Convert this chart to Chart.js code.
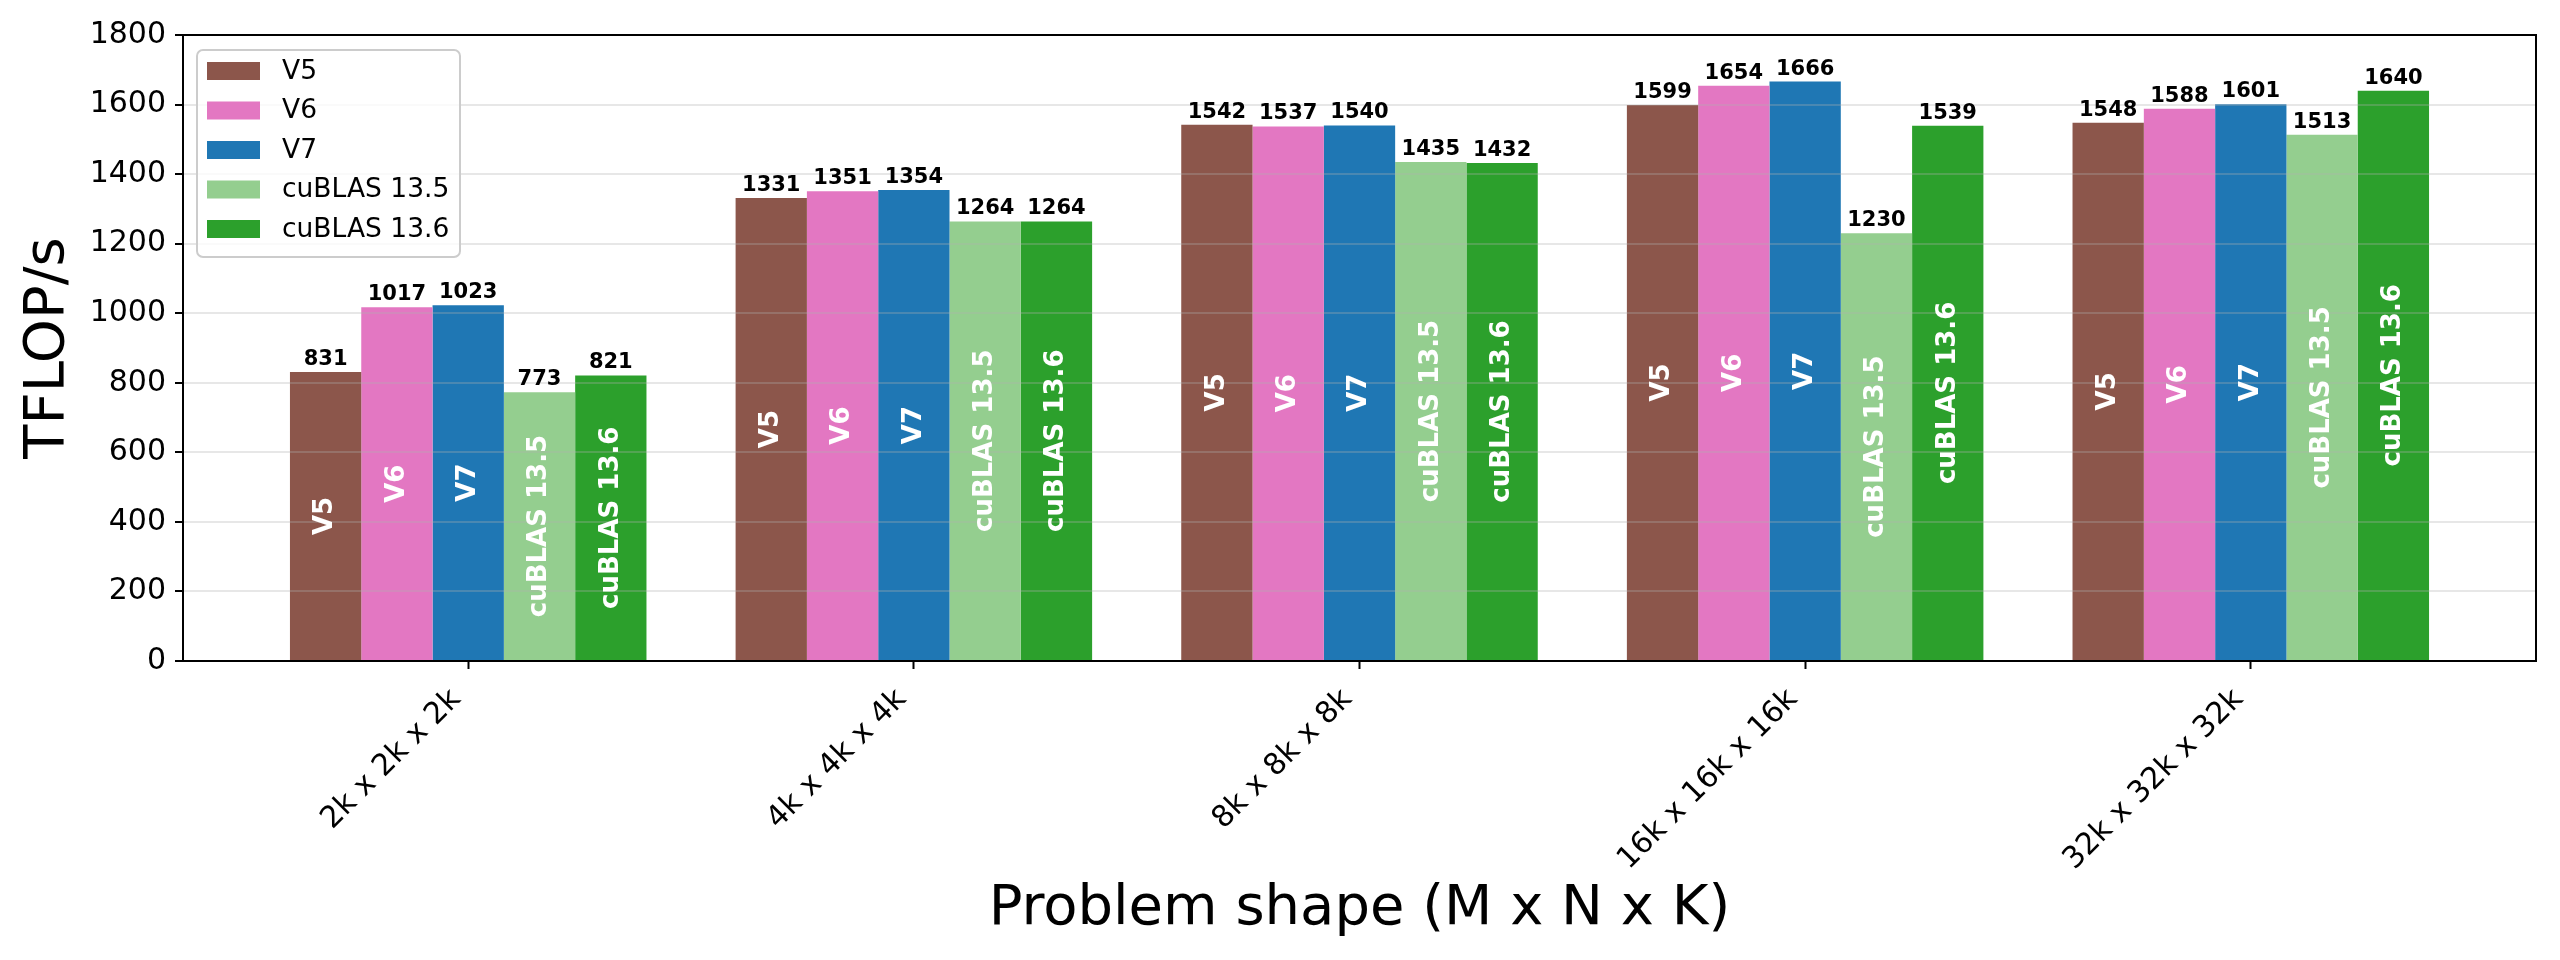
<!DOCTYPE html>
<html>
<head>
<meta charset="utf-8">
<title>GEMM throughput</title>
<script src="https://cdn.jsdelivr.net/npm/chart.js@4.4.1/dist/chart.umd.min.js"></script>
<style>
    html, body { margin: 0; padding: 0; background: #fff; }
    #wrap { width: 2560px; height: 960px; }
</style>
</head>
<body>
<div id="wrap"><canvas id="gemm" width="2560" height="960"></canvas></div>
<script>
    "use strict";

    // Data
    const shapes = ['2k x 2k x 2k', '4k x 4k x 4k', '8k x 8k x 8k', '16k x 16k x 16k', '32k x 32k x 32k'];
    const seriesNames = ['V5', 'V6', 'V7', 'cuBLAS 13.5', 'cuBLAS 13.6'];
    const v5 = [831, 1331, 1542, 1599, 1548];
    const v6 = [1017, 1351, 1537, 1654, 1588];
    const v7 = [1023, 1354, 1540, 1666, 1601];
    const cublas135 = [773, 1264, 1435, 1230, 1513];
    const cublas136 = [821, 1264, 1432, 1539, 1640];
    const yTicks = [0, 200, 400, 600, 800, 1000, 1200, 1400, 1600, 1800];

    const colors = ['#8c564b', '#e377c2', '#1f77b4', '#94ce8f', '#2ca02c'];
    const FONT = "'DejaVu Sans', sans-serif";

    const datasets = [v5, v6, v7, cublas135, cublas136].map(function (vals, k) {
        return {
            label: seriesNames[k],
            data: vals.map(function (v, i) { return { x: i, y: v }; }),
            backgroundColor: colors[k],
            borderWidth: 0,
            categoryPercentage: 0.8,
            barPercentage: 1.0
        };
    });

    // Value labels, in-bar names, frame and legend
    const decorations = {
        id: 'decorations',
        afterDraw: function (chart) {
            const ctx = chart.ctx;
            const area = chart.chartArea;
            ctx.save();

            chart.data.datasets.forEach(function (ds, k) {
                const meta = chart.getDatasetMeta(k);
                meta.data.forEach(function (bar, i) {
                    // value on top
                    ctx.fillStyle = '#000';
                    ctx.font = 'bold 21px ' + FONT;
                    ctx.textAlign = 'center';
                    ctx.textBaseline = 'alphabetic';
                    ctx.fillText(String(ds.data[i].y), bar.x, bar.y - 7);

                    // series name inside bar
                    ctx.save();
                    ctx.translate(bar.x, (bar.y + bar.base) / 2);
                    ctx.rotate(-Math.PI / 2);
                    ctx.fillStyle = '#fff';
                    ctx.font = 'bold 26px ' + FONT;
                    ctx.textBaseline = 'middle';
                    ctx.fillText(ds.label, 0, 0);
                    ctx.restore();
                });
            });

            // axes frame
            ctx.strokeStyle = '#000';
            ctx.lineWidth = 2;
            ctx.strokeRect(area.left, area.top, area.right - area.left, area.bottom - area.top);

            // Legend
            const lx = area.left + 14, ly = area.top + 15;
            const lw = 263, lh = 207;
            ctx.beginPath();
            ctx.roundRect(lx, ly, lw, lh, 6);
            ctx.fillStyle = 'rgba(255,255,255,0.8)';
            ctx.fill();
            ctx.strokeStyle = '#cccccc';
            ctx.lineWidth = 2;
            ctx.stroke();

            ctx.font = '26.5px ' + FONT;
            ctx.textAlign = 'left';
            ctx.textBaseline = 'middle';
            chart.data.datasets.forEach(function (ds, k) {
                const cy = ly + 21 + k * 39.5;
                ctx.fillStyle = ds.backgroundColor;
                ctx.fillRect(lx + 10, cy - 9, 53, 18);
                ctx.fillStyle = '#000';
                ctx.fillText(ds.label, lx + 85, cy + 1);
            });

            ctx.restore();
        }
    };

    new Chart(document.getElementById('gemm'), {
        type: 'bar',
        data: { datasets: datasets },
        options: {
            responsive: false,
            devicePixelRatio: 1,
            animation: false,
            layout: { padding: { left: 0, top: 35, right: 24, bottom: 0 } },
            plugins: {
                legend: { display: false },
                tooltip: { enabled: false }
            },
            scales: {
                x: {
                    type: 'linear',
                    min: -0.64,
                    max: 4.64,
                    offset: false,
                    afterBuildTicks: function (axis) {
                        axis.ticks = shapes.map(function (s, i) { return { value: i }; });
                    },
                    afterFit: function (scale) { scale.height = 299; },
                    border: { display: false },
                    grid: {
                        offset: false,
                        drawOnChartArea: false,
                        drawTicks: true,
                        tickLength: 8,
                        tickColor: '#000',
                        tickWidth: 2
                    },
                    ticks: {
                        autoSkip: false,
                        minRotation: 45,
                        maxRotation: 45,
                        padding: 13,
                        labelOffset: -12,
                        color: '#000',
                        font: { family: FONT, size: 30 },
                        callback: function (v) { return shapes[v]; }
                    },
                    title: {
                        display: true,
                        text: 'Problem shape (M x N x K)',
                        color: '#000',
                        font: { family: FONT, size: 56 },
                        padding: { top: 0, bottom: 17 }
                    }
                },
                y: {
                    min: 0,
                    max: 1800,
                    afterBuildTicks: function (axis) {
                        axis.ticks = yTicks.map(function (v) { return { value: v }; });
                    },
                    afterFit: function (scale) { scale.width = 183; },
                    border: { display: false },
                    grid: {
                        z: 1,
                        color: 'rgba(176,176,176,0.3)',
                        lineWidth: 2,
                        drawTicks: true,
                        tickLength: 8,
                        tickColor: '#000',
                        tickWidth: 2
                    },
                    ticks: {
                        padding: 9,
                        color: '#000',
                        font: { family: FONT, size: 30 },
                        callback: function (v) { return String(v); }
                    },
                    title: {
                        display: true,
                        text: 'TFLOP/s',
                        color: '#000',
                        font: { family: FONT, size: 56 },
                        padding: { top: 15, bottom: 0 }
                    }
                }
            }
        },
        plugins: [decorations]
    });
</script>
</body>
</html>
